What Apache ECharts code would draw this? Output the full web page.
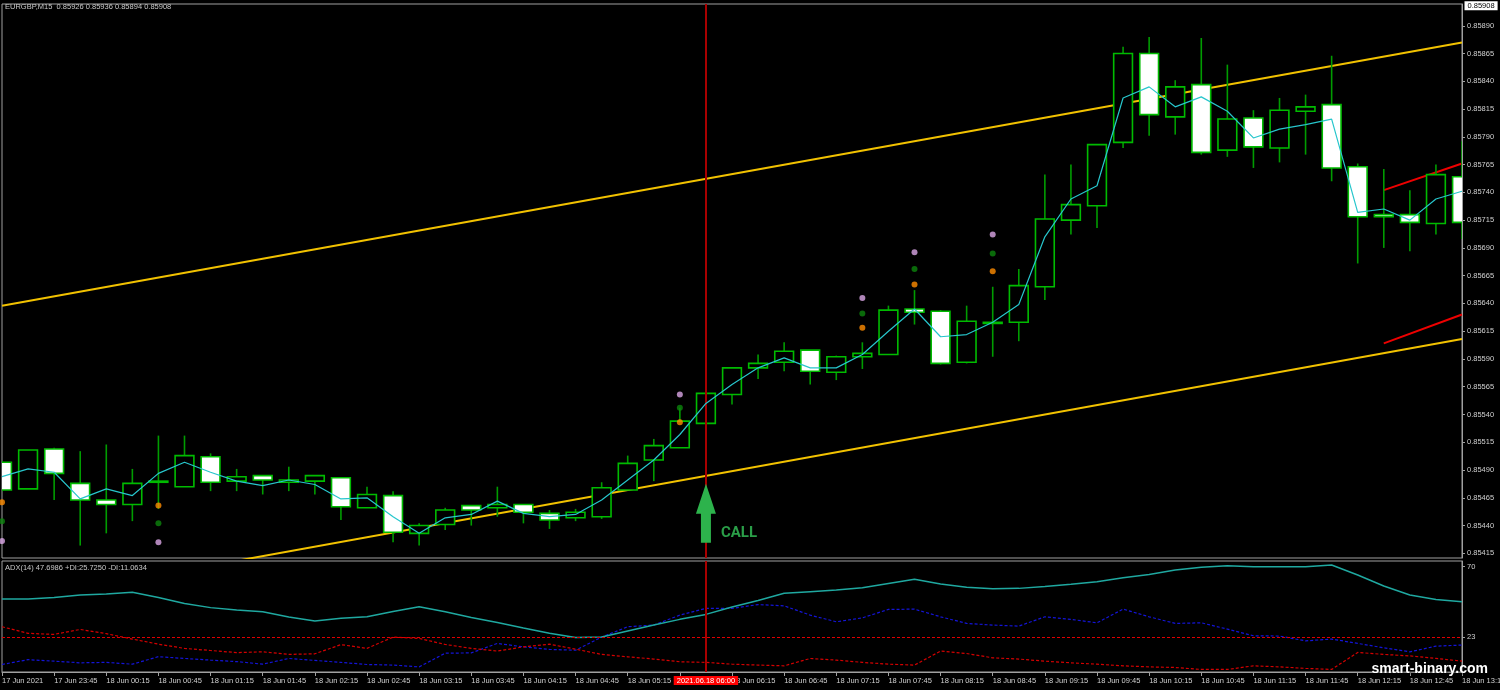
<!DOCTYPE html>
<html><head><meta charset="utf-8">
<script src="https://cdn.jsdelivr.net/npm/echarts@6/dist/echarts.min.js"></script>
<style>html,body{margin:0;padding:0;background:#000;}#c{width:1500px;height:690px;}</style>
</head><body><div id="c"></div>
<script>
// ---- data ----
const categories = ['17 Jun 2021','17 Jun 23:30','17 Jun 23:45','18 Jun 00:00','18 Jun 00:15','18 Jun 00:30','18 Jun 00:45','18 Jun 01:00','18 Jun 01:15','18 Jun 01:30',
'18 Jun 01:45','18 Jun 02:00','18 Jun 02:15','18 Jun 02:30','18 Jun 02:45','18 Jun 03:00','18 Jun 03:15','18 Jun 03:30','18 Jun 03:45','18 Jun 04:00',
'18 Jun 04:15','18 Jun 04:30','18 Jun 04:45','18 Jun 05:00','18 Jun 05:15','18 Jun 05:30','18 Jun 05:45','18 Jun 06:00','18 Jun 06:15','18 Jun 06:30',
'18 Jun 06:45','18 Jun 07:00','18 Jun 07:15','18 Jun 07:30','18 Jun 07:45','18 Jun 08:00','18 Jun 08:15','18 Jun 08:30','18 Jun 08:45','18 Jun 09:00',
'18 Jun 09:15','18 Jun 09:30','18 Jun 09:45','18 Jun 10:00','18 Jun 10:15','18 Jun 10:30','18 Jun 10:45','18 Jun 11:00','18 Jun 11:15','18 Jun 11:30',
'18 Jun 11:45','18 Jun 12:00','18 Jun 12:15','18 Jun 12:30','18 Jun 12:45','18 Jun 13:00','18 Jun 13:15'];

const opens = [0.85497,0.85473,0.85509,0.85478,0.85463,0.85459,0.85479,0.85475,0.85502,0.85480,
0.85485,0.85479,0.85480,0.85483,0.85456,0.85467,0.85433,0.85441,0.85458,0.85456,
0.85459,0.85451,0.85447,0.85448,0.85472,0.85499,0.85510,0.85532,0.85558,0.85582,
0.85587,0.85598,0.85578,0.85592,0.85594,0.85635,0.85633,0.85587,0.85622,0.85623,
0.85655,0.85715,0.85728,0.85785,0.85865,0.85808,0.85837,0.85778,0.85807,0.85780,
0.85813,0.85819,0.85763,0.85720,0.85720,0.85712,0.85754];
const closes = [0.85472,0.85508,0.85487,0.85463,0.85459,0.85478,0.85480,0.85503,0.85479,0.85484,
0.85481,0.85481,0.85485,0.85457,0.85468,0.85434,0.85440,0.85454,0.85454,0.85459,
0.85452,0.85445,0.85452,0.85474,0.85496,0.85512,0.85534,0.85559,0.85582,0.85586,
0.85597,0.85579,0.85592,0.85595,0.85634,0.85632,0.85586,0.85624,0.85623,0.85656,
0.85716,0.85729,0.85783,0.85865,0.85810,0.85835,0.85776,0.85806,0.85781,0.85814,
0.85817,0.85762,0.85718,0.85718,0.85713,0.85756,0.85713];
const highs = [0.85498,0.85508,0.85510,0.85507,0.85513,0.85491,0.85521,0.85521,0.85505,0.85491,
0.85485,0.85493,0.85485,0.85483,0.85475,0.85471,0.85442,0.85456,0.85458,0.85475,
0.85459,0.85454,0.85455,0.85479,0.85503,0.85518,0.85546,0.85559,0.85582,0.85594,
0.85605,0.85598,0.85593,0.85605,0.85638,0.85652,0.85634,0.85638,0.85655,0.85671,
0.85756,0.85765,0.85783,0.85871,0.85880,0.85841,0.85879,0.85855,0.85814,0.85825,
0.85828,0.85863,0.85766,0.85761,0.85742,0.85765,0.85786];
const lows = [0.85471,0.85473,0.85463,0.85422,0.85433,0.85444,0.85455,0.85475,0.85471,0.85471,
0.85468,0.85471,0.85468,0.85445,0.85456,0.85425,0.85422,0.85436,0.85440,0.85448,
0.85442,0.85437,0.85444,0.85446,0.85472,0.85480,0.85510,0.85532,0.85549,0.85572,
0.85579,0.85567,0.85571,0.85581,0.85594,0.85621,0.85585,0.85586,0.85592,0.85606,
0.85643,0.85702,0.85708,0.85780,0.85791,0.85792,0.85774,0.85772,0.85762,0.85767,
0.85774,0.85750,0.85676,0.85690,0.85687,0.85702,0.85698];

const maValues = [0.85484,0.85491,0.85488,0.85464,0.85473,0.85467,0.85487,0.85497,0.85488,0.85480,
0.85476,0.85481,0.85477,0.85464,0.85465,0.85448,0.85433,0.85447,0.85450,0.85462,
0.85451,0.85448,0.85450,0.85463,0.85481,0.85499,0.85522,0.85550,0.85567,0.85582,
0.85591,0.85582,0.85582,0.85594,0.85615,0.85635,0.85610,0.85612,0.85623,0.85639,
0.85700,0.85734,0.85746,0.85825,0.85835,0.85817,0.85826,0.85813,0.85789,0.85797,
0.85801,0.85806,0.85722,0.85725,0.85715,0.85734,0.85741];

// channel lines: [barIndex, price] end points
const channelUpper = [[0, 0.85638], [56, 0.85875]];
const channelLower = [[0, 0.85370], [56, 0.85608]];
const redUpper = [[53, 0.85742], [56, 0.85766]];
const redLower = [[53, 0.85604], [56, 0.85630]];

// signal dots [barIndex, price]
const dotsPink = [[0, 0.85426], [6, 0.85425], [26, 0.85558], [33, 0.85645], [35, 0.85686], [38, 0.85702]];
const dotsGreen = [[0, 0.85444], [6, 0.85442], [26, 0.85546], [33, 0.85631], [35, 0.85671], [38, 0.85685]];
const dotsOrange = [[0, 0.85461], [6, 0.85458], [26, 0.85533], [33, 0.85618], [35, 0.85657], [38, 0.85669]];

const callArrow = [27, 0.85451];
const crossBar = 27;
const crossLabel = '2021.06.18 06:00';
const lastPrice = 0.85908;

const adxValues = [48.5,48.5,49.5,51.2,51.8,53.0,49.5,45.5,42.8,41.2,
40.0,36.5,33.9,35.8,36.7,40.2,43.4,40.0,36.2,32.9,
29.2,25.7,23.0,23.2,27.2,31.2,35.0,38.3,43.2,47.5,
52.3,53.4,54.5,56.0,58.8,61.6,58.5,56.3,55.4,55.6,
56.8,58.3,60.0,62.7,64.9,67.8,69.6,70.6,70.0,70.0,
70.0,71.1,64.5,57.2,51.2,48.2,46.7];
const plusDI = [5.0,8.2,7.2,6.1,6.4,5.2,10.2,9.0,7.9,6.9,
5.2,9.0,7.7,6.4,5.0,4.6,3.4,12.5,12.7,19.0,
16.7,15.0,14.5,23.2,30.1,31.2,37.8,42.3,42.3,44.8,
44.0,37.8,33.4,36.0,41.6,41.8,36.7,32.3,31.2,30.5,
36.7,35.0,32.7,41.8,36.7,32.3,32.7,28.5,24.1,23.9,
20.7,21.9,19.0,16.1,13.4,17.2,17.9];
const minusDI = [30.1,25.7,25.0,28.3,25.5,21.9,18.5,15.7,14.3,12.9,
13.4,11.7,12.1,18.2,15.7,23.2,22.3,18.3,15.7,13.9,
16.7,18.5,15.2,11.7,10.1,8.6,6.8,6.4,5.2,4.6,
4.1,9.0,7.9,6.4,5.2,4.6,13.9,12.3,9.4,8.6,
7.2,6.1,5.2,4.1,3.4,3.0,1.7,1.7,4.1,3.4,
2.4,1.7,13.0,11.7,10.7,9.0,7.2];
const adxLevel = 23;

const priceTicks = [0.85415,0.85440,0.85465,0.85490,0.85515,0.85540,0.85565,0.85590,0.85615,0.85640,
0.85665,0.85690,0.85715,0.85740,0.85765,0.85790,0.85815,0.85840,0.85865,0.85890];
const adxTicks = [70, 23];

// ---- chart ----
const FONT = '"Liberation Sans", Arial, sans-serif';
const GRAY = '#a0a0a0';
const TXT = '#d0d0d0';
const candleData = categories.map((c, i) => [i, opens[i], closes[i], lows[i], highs[i]]);

const chart = echarts.init(document.getElementById('c'), null, {renderer: 'canvas'});
chart.setOption({
  backgroundColor: '#000',
  animation: false,
  grid: [
    {left: 2, right: 38, top: 4, height: 554, show: true, borderColor: GRAY, borderWidth: 1, containLabel: false, outerBoundsMode: 'none'},
    {left: 2, right: 38, top: 561, height: 111, show: true, borderColor: GRAY, borderWidth: 1, containLabel: false, outerBoundsMode: 'none'}
  ],
  xAxis: [
    {gridIndex: 0, type: 'category', data: categories, boundaryGap: false,
     axisLine: {show: false}, axisTick: {show: false}, axisLabel: {show: false}, splitLine: {show: false}},
    {gridIndex: 1, type: 'category', data: categories, boundaryGap: false,
     axisLine: {lineStyle: {color: GRAY}},
     axisTick: {show: true, interval: 1, length: 4, lineStyle: {color: GRAY}},
     axisLabel: {interval: 1, align: 'left', margin: 5, color: TXT, fontSize: 7.5, fontFamily: FONT, hideOverlap: false},
     splitLine: {show: false}}
  ],
  yAxis: [
    {gridIndex: 0, type: 'value', position: 'right', min: 0.854108, max: 0.859096, scale: true,
     splitLine: {show: false},
     axisLine: {show: true, lineStyle: {color: GRAY}},
     axisTick: {show: true, length: 3, customValues: priceTicks, lineStyle: {color: GRAY}},
     axisLabel: {customValues: priceTicks, formatter: v => v.toFixed(5), color: TXT, fontSize: 7.5, fontFamily: FONT, margin: 5}},
    {gridIndex: 1, type: 'value', position: 'right', min: 0, max: 73.8,
     splitLine: {show: false},
     axisLine: {show: true, lineStyle: {color: GRAY}},
     axisTick: {show: true, length: 3, customValues: adxTicks, lineStyle: {color: GRAY}},
     axisLabel: {customValues: adxTicks, formatter: v => String(Math.round(v)), color: TXT, fontSize: 7.5, fontFamily: FONT, margin: 5}}
  ],
  series: [
    {
      name: 'channelUpper', type: 'line', xAxisIndex: 0, yAxisIndex: 0, data: channelUpper,
      showSymbol: false, silent: true, lineStyle: {color: '#f2c200', width: 2}, z: 3
    },
    {
      name: 'channelLower', type: 'line', xAxisIndex: 0, yAxisIndex: 0, data: channelLower,
      showSymbol: false, silent: true, lineStyle: {color: '#f2c200', width: 2}, z: 3
    },
    {
      name: 'redUpper', type: 'line', xAxisIndex: 0, yAxisIndex: 0, data: redUpper,
      showSymbol: false, silent: true, lineStyle: {color: '#ee0000', width: 2}, z: 3
    },
    {
      name: 'redLower', type: 'line', xAxisIndex: 0, yAxisIndex: 0, data: redLower,
      showSymbol: false, silent: true, lineStyle: {color: '#ee0000', width: 2}, z: 3
    },
    {
      name: 'candles', type: 'custom', xAxisIndex: 0, yAxisIndex: 0, clip: true, z: 4,
      data: candleData, encode: {x: 0, y: [1, 2, 3, 4]},
      renderItem(params, api) {
        const i = api.value(0), o = api.value(1), c = api.value(2), l = api.value(3), h = api.value(4);
        const pO = api.coord([i, o]), pC = api.coord([i, c]), pL = api.coord([i, l]), pH = api.coord([i, h]);
        const w = api.size([1, 0])[0] * 0.72;
        const x = pO[0];
        const top = Math.min(pO[1], pC[1]), bot = Math.max(pO[1], pC[1]);
        const bull = c >= o;
        return {type: 'group', children: [
          {type: 'line', shape: {x1: x, y1: pH[1], x2: x, y2: pL[1]}, style: {stroke: '#009c00', lineWidth: 1.6}},
          {type: 'rect', shape: {x: x - w / 2, y: top, width: w, height: Math.max(bot - top, 0.8)},
           style: {fill: bull ? '#000' : '#fff', stroke: '#00bb00', lineWidth: 1.6}}
        ]};
      }
    },
    {
      name: 'MA', type: 'line', xAxisIndex: 0, yAxisIndex: 0, data: maValues, z: 5,
      showSymbol: false, lineStyle: {color: '#27c6cc', width: 1.2},
      markLine: {
        silent: true, symbol: 'none', animation: false,
        data: [
          {xAxis: crossBar, lineStyle: {color: '#a80000', width: 2, type: 'solid'}, label: {show: false}}
        ]
      },
      markPoint: {
        silent: true, animation: false,
        data: [{
          coord: callArrow,
          symbol: 'path://M10,0 L20,30 L15,30 L15,59 L5,59 L5,30 L0,30 Z',
          symbolSize: [20, 59], symbolKeepAspect: false,
          itemStyle: {color: '#2db34c'},
          label: {show: true, formatter: 'CALL', position: 'right', distance: 5, offset: [0, 20],
                  color: '#2a9e48', fontSize: 15, fontWeight: 'bold', fontFamily: 'Roboto, sans-serif'}
        }, {
          coord: [56, lastPrice],
          symbol: 'rect', symbolSize: 1, itemStyle: {color: 'rgba(0,0,0,0)'},
          label: {show: true, position: 'right', distance: 2, formatter: lastPrice.toFixed(5), backgroundColor: '#fff',
                  color: '#000', padding: [1, 3, 0, 3], fontSize: 7.5, fontFamily: FONT}
        }]
      }
    },
    {name: 'pink', type: 'scatter', xAxisIndex: 0, yAxisIndex: 0, data: dotsPink, symbolSize: 6, itemStyle: {color: '#dba6e6'}, z: 6},
    {name: 'green', type: 'scatter', xAxisIndex: 0, yAxisIndex: 0, data: dotsGreen, symbolSize: 6, itemStyle: {color: '#0c850c'}, z: 6},
    {name: 'orange', type: 'scatter', xAxisIndex: 0, yAxisIndex: 0, data: dotsOrange, symbolSize: 6, itemStyle: {color: '#ff8c00'}, z: 6},
    {
      name: 'ADX', type: 'line', xAxisIndex: 1, yAxisIndex: 1, data: adxValues, showSymbol: false,
      lineStyle: {color: '#1fa8a0', width: 1.5}, z: 4,
      markLine: {
        silent: true, symbol: 'none', animation: false,
        data: [
          {yAxis: adxLevel, lineStyle: {color: '#e00000', width: 1, type: [3, 2]}, label: {show: false}},
          {xAxis: crossBar, lineStyle: {color: '#a80000', width: 2, type: 'solid'},
           label: {show: true, position: 'start', distance: 4, formatter: crossLabel, backgroundColor: '#ff0000',
                   color: '#fff', padding: [1, 3, 0, 3], fontSize: 7.5, fontFamily: FONT}}
        ]
      }
    },
    {name: '+DI', type: 'line', xAxisIndex: 1, yAxisIndex: 1, data: plusDI, showSymbol: false,
     lineStyle: {color: '#1414d8', width: 1.2, type: [3, 2]}, z: 3},
    {name: '-DI', type: 'line', xAxisIndex: 1, yAxisIndex: 1, data: minusDI, showSymbol: false,
     lineStyle: {color: '#d40000', width: 1.2, type: [3, 2]}, z: 3}
  ],
  graphic: [
    {type: 'text', left: 5, top: 3, z: 100, style: {text: 'EURGBP,M15  0.85926 0.85936 0.85894 0.85908', fill: '#c8c8c8', font: '7.5px ' + FONT}},
    {type: 'text', left: 5, top: 564, z: 100, style: {text: 'ADX(14) 47.6986 +DI:25.7250 -DI:11.0634', fill: '#c8c8c8', font: '7.5px ' + FONT}},
    {type: 'text', right: 12, top: 662, z: 100, style: {text: 'smart-binary.com', fill: '#ffffff', font: 'bold 14px ' + FONT,
      textShadowColor: '#000', textShadowBlur: 3, textShadowOffsetX: 1, textShadowOffsetY: 1}}
  ]
});
</script>
</body></html>
